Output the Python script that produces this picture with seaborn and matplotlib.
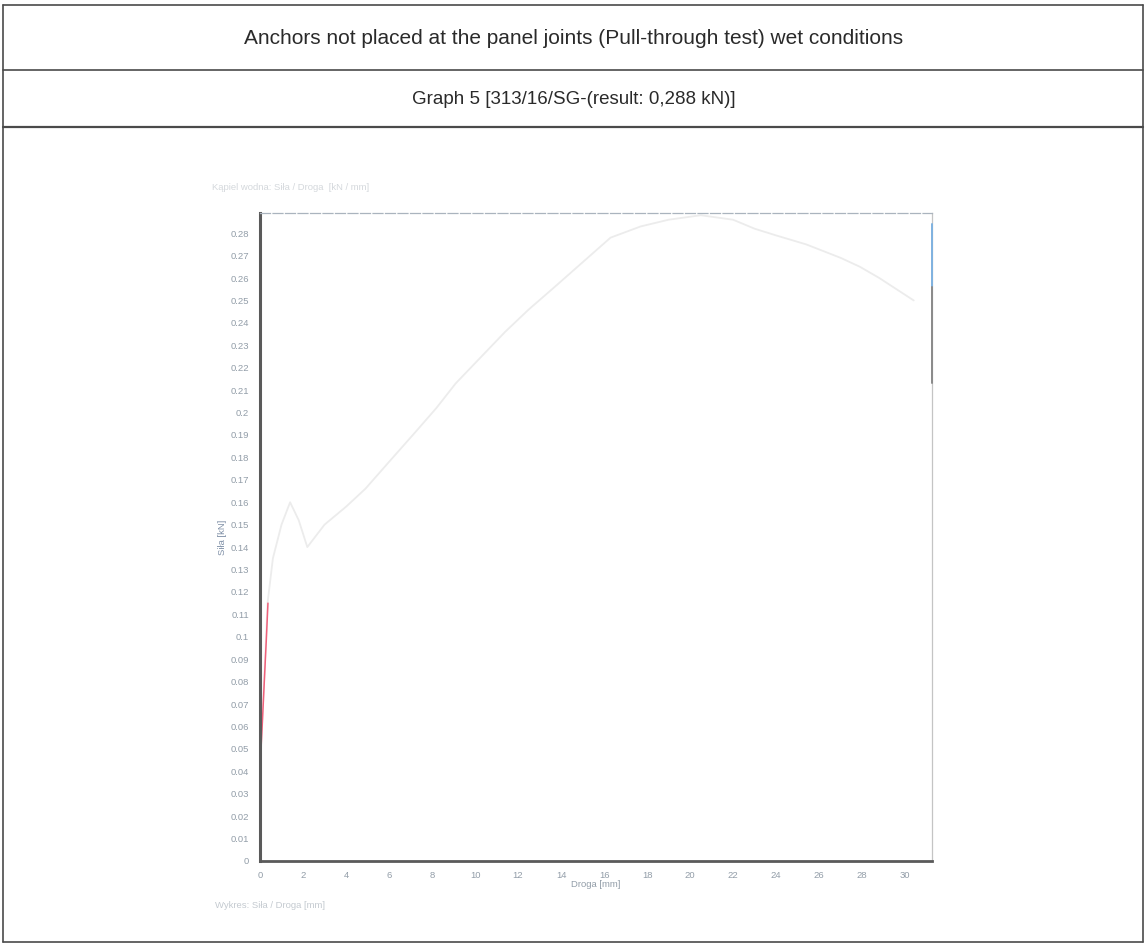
import numpy as np
import pandas as pd
import matplotlib
matplotlib.use("Agg")
import matplotlib.pyplot as plt
from matplotlib.lines import Line2D
import seaborn as sns

# ---- data ----
disp_mm = [0, 0.05, 0.35, 0.6, 1.0, 1.4, 1.8, 2.2, 3.0, 4.0, 4.9, 6.0, 7.2, 8.2,
           9.1, 10.3, 11.4, 12.5, 13.7, 15.0, 16.3, 17.7, 19.0, 20.5, 22.0, 23.0,
           24.0, 25.4, 27.0, 27.9, 28.8, 29.6, 30.4]
force_kN = [0, 0.05, 0.115, 0.135, 0.15, 0.16, 0.152, 0.14, 0.15, 0.158, 0.166,
            0.178, 0.191, 0.202, 0.213, 0.225, 0.236, 0.246, 0.256, 0.267, 0.278,
            0.283, 0.286, 0.288, 0.286, 0.282, 0.279, 0.275, 0.269, 0.265, 0.26,
            0.255, 0.25]
red_disp = [0.02, 0.1, 0.2, 0.3, 0.37]
red_force = [0.045, 0.06, 0.08, 0.1, 0.115]
blue_disp = [31.25, 31.25]
blue_force = [0.256, 0.284]
dark_disp = [31.25, 31.25]
dark_force = [0.213, 0.256]

x_ticks = list(range(0, 31, 2))
y_ticks = [round(0.01 * i, 2) for i in range(0, 29)]
y_tick_labels = [("%g" % v) for v in y_ticks]

title_main = "Anchors not placed at the panel joints (Pull-through test) wet conditions"
title_sub = "Graph 5 [313/16/SG-(result: 0,288 kN)]"

sns.set_theme(style="white")
plt.rcParams['font.family'] = ['Liberation Sans', 'DejaVu Sans']

fig = plt.figure(figsize=(11.47, 9.48), dpi=100)
W, H = 1147, 948

def fx(px):
    return px / W

def fy(py):
    return 1 - py / H

# table frame
frame_col = "#4a4a4a"
for (x0, y0, x1, y1, lw) in [
    (3, 5, 1143, 5, 1.2), (3, 70, 1143, 70, 1.2), (3, 127, 1143, 127, 1.6),
    (3, 942, 1143, 942, 1.2), (3, 5, 3, 942, 1.2), (1143, 5, 1143, 942, 1.2)]:
    fig.add_artist(Line2D([fx(x0), fx(x1)], [fy(y0), fy(y1)], color=frame_col, lw=lw))

fig.text(0.5, fy(38), title_main, ha="center", va="center", fontsize=15, color="#2a2a2a")
fig.text(0.5, fy(100), title_sub, ha="center", va="center", fontsize=13.5, color="#2a2a2a")

# axes placement: x=0 at px 260, right spine px 932; y=0 at px 861, top px 213
ax = fig.add_axes([fx(260), fy(861), (932 - 260) / W, (861 - 213) / H])

df = pd.DataFrame({"Droga": disp_mm, "Sila": force_kN})
sns.lineplot(data=df, x="Droga", y="Sila", ax=ax, color="#ececec", lw=1.3,
             sort=False, estimator=None)
sns.lineplot(x=red_disp, y=red_force, ax=ax, color="#f0607a", lw=1.1,
             sort=False, estimator=None)
sns.lineplot(x=blue_disp, y=blue_force, ax=ax, color="#7fb2e0", lw=1.4, sort=False,
             estimator=None, clip_on=False, zorder=4)
sns.lineplot(x=dark_disp, y=dark_force, ax=ax, color="#8a8a8a", lw=1.4, sort=False,
             estimator=None, clip_on=False, zorder=4)

ax.set_xlim(0, 31.25)
ax.set_ylim(0, 0.289)
ax.set_xticks(x_ticks)
ax.set_xticklabels([str(v) for v in x_ticks])
ax.set_yticks(y_ticks)
ax.set_yticklabels(y_tick_labels)
lab_col = "#929da8"
ax.tick_params(axis="both", labelsize=6.8, colors=lab_col, length=2, width=0.8, pad=6)
ax.tick_params(axis="x", pad=5)
ax.set_xlabel("Droga [mm]", fontsize=6.8, color=lab_col, labelpad=0)
ax.set_ylabel("Siła [kN]", fontsize=6.8, color="#7e8fa6", labelpad=2)

ax.spines["left"].set_color("#5a5a5a")
ax.spines["left"].set_linewidth(2.2)
ax.spines["bottom"].set_color("#5a5a5a")
ax.spines["bottom"].set_linewidth(2.0)
ax.spines["top"].set_color("#aab4be")
ax.spines["top"].set_linewidth(0.9)
ax.spines["top"].set_linestyle((0, (8, 2)))
ax.spines["right"].set_color("#c4c4c4")
ax.spines["right"].set_linewidth(0.9)
ax.grid(False)

fig.text(fx(212), fy(187), "Kąpiel wodna: Siła / Droga  [kN / mm]", ha="left", va="center",
         fontsize=6.8, color="#d4d8dc")
fig.text(fx(215), fy(906), "Wykres: Siła / Droga [mm]", ha="left", va="center",
         fontsize=6.8, color="#c4cad0")

fig.savefig("out.png", dpi=100)
